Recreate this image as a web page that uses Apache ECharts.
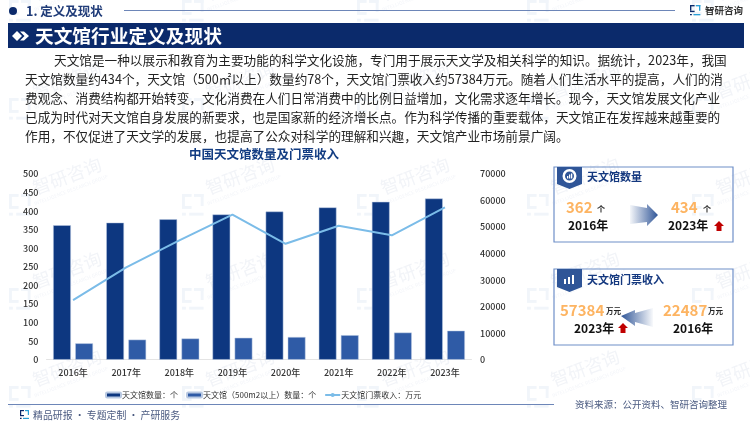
<!DOCTYPE html>
<html>
<head>
<meta charset="utf-8">
<style>
html,body{margin:0;padding:0;background:#fff}
#main{width:750px;height:421px}
</style>
<script src="https://cdn.jsdelivr.net/npm/echarts@6/dist/echarts.min.js"></script>
</head>
<body>
<div id="main"></div>
<script>
const years = ['2016年', '2017年', '2018年', '2019年', '2020年', '2021年', '2022年', '2023年']
const countAll = [362, 369, 378, 391, 399, 410, 425, 434]
const countLarge = [44, 54, 57, 59, 61, 66, 73, 78]
const ticketIncome = [22487, 34800, 45000, 54700, 43700, 50500, 46900, 57384]
const seriesNames = ['天文馆数量：个', '天文馆（500m2以上）数量：个', '天文馆门票收入：万元']
const paragraph = [
  '天文馆是一种以展示和教育为主要功能的科学文化设施，专门用于展示天文学及相关科学的知识。据统计，2023年，我国',
  '天文馆数量约434个，天文馆（500㎡以上）数量约78个，天文馆门票收入约57384万元。随着人们生活水平的提高，人们的消',
  '费观念、消费结构都开始转变，文化消费在人们日常消费中的比例日益增加，文化需求逐年增长。现今，天文馆发展文化产业',
  '已成为时代对天文馆自身发展的新要求，也是国家新的经济增长点。作为科学传播的重要载体，天文馆正在发挥越来越重要的',
  '作用，不仅促进了天文学的发展，也提高了公众对科学的理解和兴趣，天文馆产业市场前景广阔。'
]

const FONT = '"Noto Sans CJK SC", "Noto Sans", sans-serif'
const NAVY = '#0b2a6b'
const BAR1 = '#0d3780'
const BAR2 = '#2f5ba6'
const LINE = '#7bbce8'
const ORANGE = '#fdb462'

function txt (x, y, text, size, color, weight, align) {
  return {
    type: 'text', z: 10, x: x, y: y,
    style: { text: text, fontFamily: FONT, fontSize: size, fill: color, fontWeight: weight || 'normal', textAlign: align || 'left', textVerticalAlign: 'middle' }
  }
}
function poly (points, fill, z) {
  return { type: 'polygon', z: z || 10, shape: { points: points }, style: { fill: fill } }
}
function box (x, y, w, h, fill, z) {
  return { type: 'rect', z: z || 10, shape: { x: x, y: y, width: w, height: h }, style: { fill: fill } }
}
function card (x, y, w, h) {
  return { type: 'rect', z: 9, shape: { x: x, y: y, width: w, height: h }, style: { fill: 'transparent', stroke: '#6f8fc8', lineWidth: 1.2 } }
}
function upArrow (x, y) {
  return poly([[x + 5, y], [x + 10, y + 5], [x + 7.5, y + 5], [x + 7.5, y + 10], [x + 2.5, y + 10], [x + 2.5, y + 5], [x, y + 5]], '#c00000')
}
function logo (x, y, s, color, color2) {
  const c2 = color2 || '#2a9fd6'
  return [
    box(x, y, 4 * s, 1.2 * s, color), box(x, y, 1.2 * s, 5 * s, color), box(x, y + 5 * s, 4 * s, 1.2 * s, color),
    box(x + 5 * s, y, 4 * s, 1.2 * s, c2), box(x + 7.8 * s, y, 1.2 * s, 5 * s, c2),
    box(x + 3 * s, y + 7.8 * s, 6 * s, 1.2 * s, c2), box(x, y + 7.8 * s, 1.6 * s, 1.2 * s, color)
  ]
}
function gradient (x0, x1, c0, c1) {
  return new echarts.graphic.LinearGradient(x0, 0, x1, 0, [{ offset: 0, color: c0 }, { offset: 1, color: c1 }])
}

// 水印
const wmX = [67, 240, 415, 585, 750]
const wmY = [-18, 80, 176, 270, 368]
const graphics = []
wmX.forEach(x => {
  wmY.forEach(y => {
    graphics.push({
      type: 'text', z: 0, x: x, y: y, rotation: 0.36,
      style: { text: '智研咨询', fontFamily: FONT, fontSize: 18, fill: '#f2f4f8', textAlign: 'center', textVerticalAlign: 'middle' }
    })
    graphics.push({
      type: 'text', z: 0, x: x + 4, y: y + 14, rotation: 0.36,
      style: { text: 'INTELLIGENCE RESEARCH GROUP', fontFamily: FONT, fontSize: 5, fill: '#f3f5f9', textAlign: 'center', textVerticalAlign: 'middle' }
    })
    logo(x - 58, y + 18, 2.4, '#f1f5fa', '#f1f5fa').forEach(b => { b.z = 0; graphics.push(b) })
  })
})

// 页眉
graphics.push({ type: 'circle', z: 10, shape: { cx: 13, cy: 11, r: 4 }, style: { fill: NAVY } })
graphics.push(txt(26, 11, '1. 定义及现状', 12.5, '#1f3b78', 'bold'))
graphics.push(box(124, 10, 551, 1, '#6d86b8'))
logo(690, 5, 1.15, NAVY).forEach(b => graphics.push(b))
graphics.push(txt(705, 10, '智研咨询', 9.5, '#333', 'bold'))
graphics.push(box(8, 23, 736, 25, NAVY))
graphics.push(poly([[12, 36], [17, 31], [22, 36], [17, 41]], '#fff'))
graphics.push(poly([[20, 31.5], [24, 31.5], [29, 36], [24, 40.5], [20, 40.5], [24.5, 36]], '#fff'))
graphics.push(txt(35, 36, '天文馆行业定义及现状', 18.7, '#fff', 'bold'))

// 正文
paragraph.forEach((line, i) => {
  graphics.push(txt(i === 0 ? 54 : 25, 60.5 + i * 19, line, 12.65, '#222'))
})

// 右侧卡片：数量
graphics.push(card(554, 167, 179, 75))
graphics.push(poly([[557, 167], [582, 167], [582, 184], [569.5, 189], [557, 184]], '#2f5597'))
graphics.push({ type: 'ring', z: 11, shape: { cx: 569.5, cy: 176, r: 7, r0: 4.5 }, style: { fill: '#fff' } })
graphics.push(box(567, 176, 1.3, 2.5, '#fff', 11))
graphics.push(box(569, 174.5, 1.3, 4, '#fff', 11))
graphics.push(box(571, 173.5, 1.3, 5, '#fff', 11))
graphics.push(txt(587, 177, '天文馆数量', 11, '#14387f', 'bold'))
graphics.push(txt(566, 207, '362', 15, ORANGE, 'bold'))
graphics.push(txt(597, 209, '个', 8, '#222', 'bold'))
graphics.push(txt(568, 225, '2016年', 12, '#111', 'bold'))
graphics.push(poly([[630, 205], [647, 208], [647, 204], [658, 215], [647, 226], [647, 222], [630, 224]], gradient(0, 1, 'rgba(47,85,151,0.05)', '#2f5597')))
graphics.push(txt(671, 207, '434', 15, ORANGE, 'bold'))
graphics.push(txt(703, 209, '个', 8, '#222', 'bold'))
graphics.push(txt(668, 225, '2023年', 12, '#111', 'bold'))
graphics.push(upArrow(714, 221))

// 右侧卡片：门票收入
graphics.push(card(554, 269, 179, 76))
graphics.push(poly([[557, 269], [582, 269], [582, 287], [569.5, 292], [557, 287]], '#2f5597'))
graphics.push(box(564, 279, 2, 5, '#fff', 11))
graphics.push(box(568, 277, 2, 7, '#fff', 11))
graphics.push(box(572, 275, 2, 9, '#fff', 11))
graphics.push(txt(587, 280, '天文馆门票收入', 11, '#14387f', 'bold'))
graphics.push(txt(560, 310, '57384', 15, ORANGE, 'bold'))
graphics.push(txt(606, 311, '万元', 7.5, '#222', 'bold'))
graphics.push(txt(574, 328, '2023年', 12, '#111', 'bold'))
graphics.push(upArrow(618, 323))
graphics.push(poly([[621, 316], [635, 310], [635, 313], [653, 308], [653, 327], [635, 322], [635, 326]], gradient(0, 1, '#2f5597', 'rgba(47,85,151,0.03)')))
graphics.push(txt(663, 310, '22487', 15, ORANGE, 'bold'))
graphics.push(txt(708, 311, '万元', 7.5, '#222', 'bold'))
graphics.push(txt(673, 328, '2016年', 12, '#111', 'bold'))

// 页脚
graphics.push(box(8, 404, 546, 1, '#6d86b8'))
logo(20, 410, 1, NAVY).forEach(b => graphics.push(b))
graphics.push(txt(33, 415, '精品研报 · 专题定制 · 产研服务', 9.9, '#4a5a80'))
graphics.push(txt(575, 404, '资料来源：公开资料、智研咨询整理', 9.5, '#4a5a80'))

const axisLabel = { fontFamily: FONT, fontSize: 9, color: '#333', fontWeight: 500 }

const chart = echarts.init(document.getElementById('main'), null, { renderer: 'canvas' })
chart.setOption({
  animation: false,
  backgroundColor: '#fff',
  title: {
    text: '中国天文馆数量及门票收入', left: 184, top: 143,
    textStyle: { fontFamily: FONT, fontSize: 12.5, fontWeight: 'bold', color: '#123c82' }
  },
  grid: { left: 46.5, right: 278.5, top: 174, bottom: 61.3, containLabel: false },
  legend: {
    left: 100, top: 386, itemWidth: 15, itemHeight: 5, itemGap: 8,
    textStyle: { fontFamily: FONT, fontSize: 8, color: '#333', padding: [0, 0, 0, -4] },
    data: seriesNames
  },
  xAxis: {
    type: 'category', data: years,
    axisLine: { lineStyle: { color: '#e4e4e4', width: 1 } },
    axisTick: { show: false },
    axisLabel: Object.assign({ margin: 8 }, axisLabel)
  },
  yAxis: [
    {
      type: 'value', min: 0, max: 500, interval: 50,
      axisLine: { show: false }, axisTick: { show: false }, splitLine: { show: false },
      axisLabel: Object.assign({ margin: 8 }, axisLabel)
    },
    {
      type: 'value', min: 0, max: 70000, interval: 10000, position: 'right',
      axisLine: { show: false }, axisTick: { show: false }, splitLine: { show: false },
      axisLabel: Object.assign({ margin: 8.5, formatter: v => String(v) }, axisLabel)
    }
  ],
  series: [
    { name: seriesNames[0], type: 'bar', data: countAll, barWidth: 17.7, barGap: '25%', itemStyle: { color: BAR1, borderColor: '#b9c9e2', borderWidth: 0.5 } },
    { name: seriesNames[1], type: 'bar', data: countLarge, barWidth: 17.7, itemStyle: { color: BAR2, borderColor: '#b9c9e2', borderWidth: 0.5 } },
    { name: seriesNames[2], type: 'line', yAxisIndex: 1, data: ticketIncome, symbol: 'none', z: 5, lineStyle: { color: LINE, width: 2 }, itemStyle: { color: LINE } }
  ],
  graphic: { elements: graphics }
})
</script>
</body>
</html>
